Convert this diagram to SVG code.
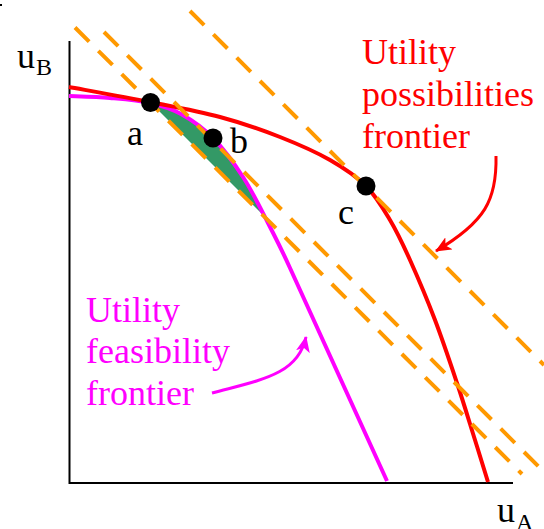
<svg xmlns="http://www.w3.org/2000/svg" width="544" height="529" viewBox="0 0 544 529">
<style>
text{font-family:"Liberation Serif","Times New Roman",serif;font-size:36px}
.ax{stroke:#000;stroke-width:2;fill:none}
.dash{stroke:#FF9900;stroke-width:4;fill:none;stroke-dasharray:20 13}
.upf{stroke:#FF0000;stroke-width:4;fill:none}
.uff{stroke:#FF00FF;stroke-width:4;fill:none}
.dot{fill:#000}
.red{fill:#FF0000}
.mag{fill:#FF00FF}
</style>
<defs>
<marker id="arR" viewBox="0 0 16 14" refX="15" refY="7" markerWidth="16" markerHeight="14" markerUnits="userSpaceOnUse" orient="auto">
<path d="M0,0 L16,7 L0,14 L4,7 z" fill="#FF0000"/>
</marker>
<marker id="arM" viewBox="0 0 16 14" refX="15" refY="7" markerWidth="16" markerHeight="14" markerUnits="userSpaceOnUse" orient="auto">
<path d="M0,0 L16,7 L0,14 L4,7 z" fill="#FF00FF"/>
</marker>
</defs>
<rect x="0" y="4" width="2" height="2" fill="#000"/>
<g id="axes">
<path class="ax" d="M69.5,41 L69.5,483 L513,483"/>
<text x="17" y="68">u</text>
<text x="36" y="75" style="font-size:24px">B</text>
<text x="497" y="522">u</text>
<text x="516" y="530" style="font-size:24px">A</text>
</g>
<g id="region">
<path d="M150,102 C161.8,105.7 170.5,108.2 181,114 C191.5,119.8 202.7,127.5 213,138 C223.3,148.5 233.8,162.8 243,177 C252.2,191.2 257,203 262,214 Z" fill="#339966"/>
</g>
<g id="uff">
<path class="uff" d="M69,96 C75.8,96.3 96.5,96.8 110,98 C123.5,99.2 138.2,100.3 150,103 C161.8,105.7 170.5,108.2 181,114 C191.5,119.8 202.7,127.5 213,138 C223.3,148.5 233.8,162.8 243,177 C252.2,191.2 258.5,204.2 268,223 C277.5,241.8 280,246 290,268 L387,481"/>
</g>
<g id="upf">
<path class="upf" d="M69,87 C82.5,89.5 124.8,97 150,102 C175.2,107 198.3,111.2 220,117 C241.7,122.8 261.7,129.8 280,137 C298.3,144.2 315.7,151.8 330,160 C344.3,168.2 356,176 366,186 C376,196 382.7,207.7 390,220 C397.3,232.3 402.5,243.3 410,260 C417.5,276.7 427.2,299.5 435,320 C442.8,340.5 450.3,363 457,383 C463.7,403 469.8,423.5 475,440 C480.2,456.5 485.8,475 488,482"/>
</g>
<g id="connectors">
<path class="dash" d="M75,27.5 L522,474"/>
<path class="dash" d="M104,32 L544,472"/>
<path class="dash" d="M190,11 L544,365"/>
<path d="M496,156 C497,200 485,222 436,251" stroke="#FF0000" stroke-width="3" fill="none" marker-end="url(#arR)"/>
<path d="M212,393 C260,380 298,375 306,337" stroke="#FF00FF" stroke-width="3" fill="none" marker-end="url(#arM)"/>
</g>
<g id="point-a">
<circle class="dot" cx="150.5" cy="102.5" r="9.5"/>
<text x="127" y="145">a</text>
</g>
<g id="point-b">
<circle class="dot" cx="213" cy="138" r="9.5"/>
<text x="230" y="153">b</text>
</g>
<g id="point-c">
<circle class="dot" cx="366" cy="186" r="9.5"/>
<text x="338" y="224">c</text>
</g>
<g id="label-upf">
<text class="red" x="362" y="64">Utility</text>
<text class="red" x="362" y="106">possibilities</text>
<text class="red" x="362" y="148">frontier</text>
</g>
<g id="label-uff">
<text class="mag" x="86" y="322">Utility</text>
<text class="mag" x="86" y="363">feasibility</text>
<text class="mag" x="86" y="405">frontier</text>
</g>
</svg>
